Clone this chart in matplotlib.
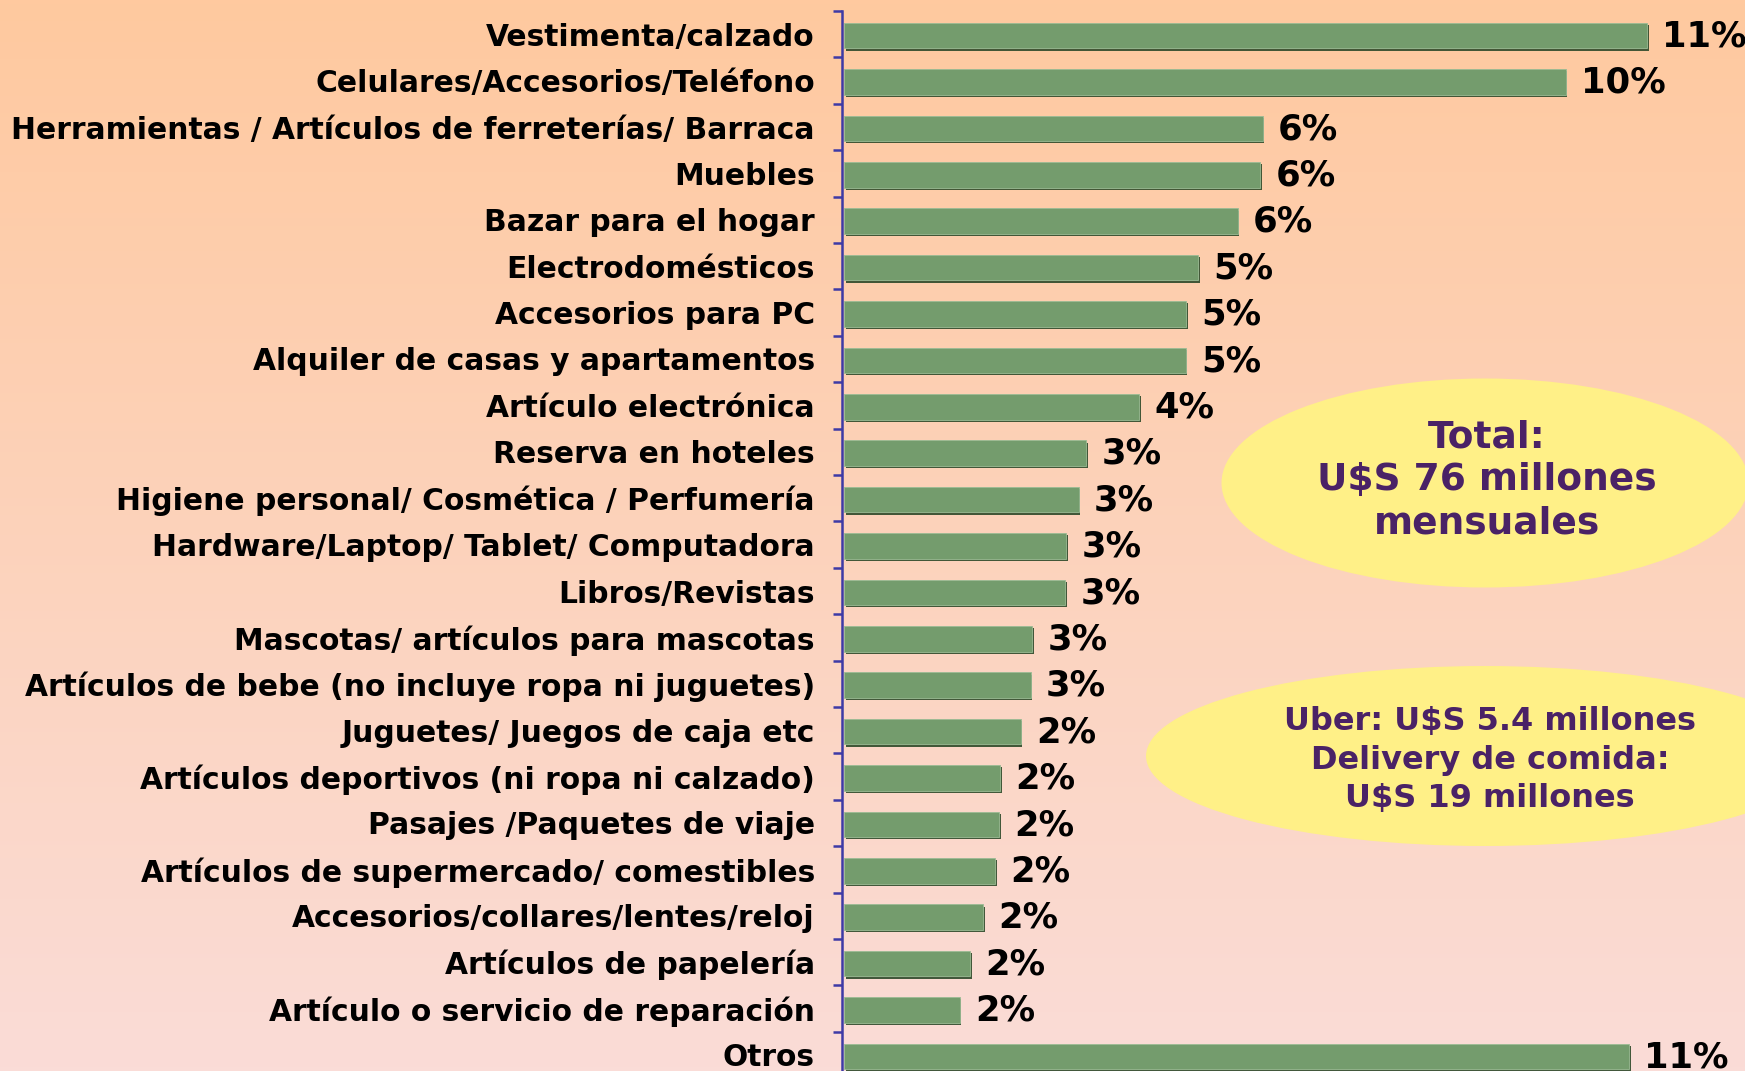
import matplotlib
matplotlib.use("Agg")
import matplotlib.pyplot as plt
import numpy as np
from matplotlib.patches import Ellipse
from matplotlib import patheffects as pe
from matplotlib.colors import LinearSegmentedColormap

# Share of monthly online spending by category (%)
categories = [
    "Vestimenta/calzado",
    "Celulares/Accesorios/Teléfono",
    "Herramientas / Artículos de ferreterías/ Barraca",
    "Muebles",
    "Bazar para el hogar",
    "Electrodomésticos",
    "Accesorios para PC",
    "Alquiler de casas y apartamentos",
    "Artículo electrónica",
    "Reserva en hoteles",
    "Higiene personal/ Cosmética / Perfumería",
    "Hardware/Laptop/ Tablet/ Computadora",
    "Libros/Revistas",
    "Mascotas/ artículos para mascotas",
    "Artículos de bebe (no incluye ropa ni juguetes)",
    "Juguetes/ Juegos de caja etc",
    "Artículos deportivos (ni ropa ni calzado)",
    "Pasajes /Paquetes de viaje",
    "Artículos de supermercado/ comestibles",
    "Accesorios/collares/lentes/reloj",
    "Artículos de papelería",
    "Artículo o servicio de reparación",
    "Otros",
]
shares = [11.26, 10.12, 5.87, 5.84, 5.52, 4.97, 4.80, 4.79, 4.14, 3.40, 3.29,
          3.12, 3.10, 2.64, 2.62, 2.48, 2.19, 2.18, 2.12, 1.95, 1.77, 1.62, 11.01]

total_note = "Total:\nU$S 76 millones\nmensuales"
other_note = "Uber: U$S 5.4 millones\nDelivery de comida:\nU$S 19 millones"

W, H = 1745, 1071
fig = plt.figure(figsize=(W / 100, H / 100), dpi=100)

# vertical peach-to-pink background
bg = fig.add_axes([0, 0, 1, 1], zorder=-10)
cmap = LinearSegmentedColormap.from_list("bg", ["#ffc99f", "#fadcd7"])
bg.imshow(np.linspace(0, 1, 256).reshape(-1, 1), aspect="auto", cmap=cmap,
          extent=[0, 1, 0, 1])
bg.axis("off")

ax_left, ax_right = 842, W
ax_top, slot = 11, 46.4
n = len(categories)
ax_bottom = ax_top + n * slot
ax = fig.add_axes([ax_left / W, 1 - ax_bottom / H, (ax_right - ax_left) / W,
                   (ax_bottom - ax_top) / H])
ax.set_facecolor("none")

px_per_unit = 71.3
xmin = -2 / px_per_unit
ax.set_xlim(xmin, xmin + (ax_right - ax_left) / px_per_unit)
ax.set_ylim(n - 0.5, -0.5)

y = np.arange(n)
bars = ax.barh(y + 0.03, shares, height=0.55, color="#749c6d", edgecolor="#9bbb94",
               linewidth=0.6, zorder=3)
for b in bars:
    b.set_path_effects([pe.SimplePatchShadow(offset=(1.2, -1.6),
                                             shadow_rgbFace="#2e4a2a", alpha=0.9),
                        pe.Normal()])

for yi, v in zip(y, shares):
    ax.annotate(f"{v:.0f}%", (v, yi), xytext=(11, -1.5), textcoords="offset points",
                ha="left", va="center", fontsize=25.5, fontweight="bold",
                color="black", annotation_clip=False)

axis_color = "#3d3aa6"
for s in ["top", "right", "bottom"]:
    ax.spines[s].set_visible(False)
ax.spines["left"].set_color(axis_color)
ax.spines["left"].set_linewidth(1.8)
ax.set_xticks([])
ax.set_yticks(y)
ax.set_yticklabels(categories, fontsize=21.4, fontweight="bold")
ax.set_yticks(np.arange(n + 1) - 0.5, minor=True)
ax.tick_params(axis="y", which="major", length=0, pad=19.5)
ax.tick_params(axis="y", which="minor", length=6.5, width=1.8, color=axis_color,
               direction="out")

# call-out ellipses
note_color = "#4a2266"
e1 = Ellipse((1485 / W, 1 - 483 / H), 527 / W, 209 / H,
             transform=fig.transFigure, facecolor="#fff087", edgecolor="none",
             zorder=5)
fig.add_artist(e1)
fig.text(1487 / W, 1 - 480 / H, total_note, ha="center", va="center",
         fontsize=27, fontweight="bold", color=note_color, linespacing=1.25,
         zorder=6)

e2 = Ellipse((1485 / W, 1 - 756 / H), 678 / W, 180 / H,
             transform=fig.transFigure, facecolor="#fff087", edgecolor="none",
             zorder=5)
fig.add_artist(e2)
fig.text(1490 / W, 1 - 760 / H, other_note, ha="center", va="center",
         fontsize=23, fontweight="bold", color=note_color, linespacing=1.3,
         zorder=6)

fig.savefig("out.png", dpi=100)
